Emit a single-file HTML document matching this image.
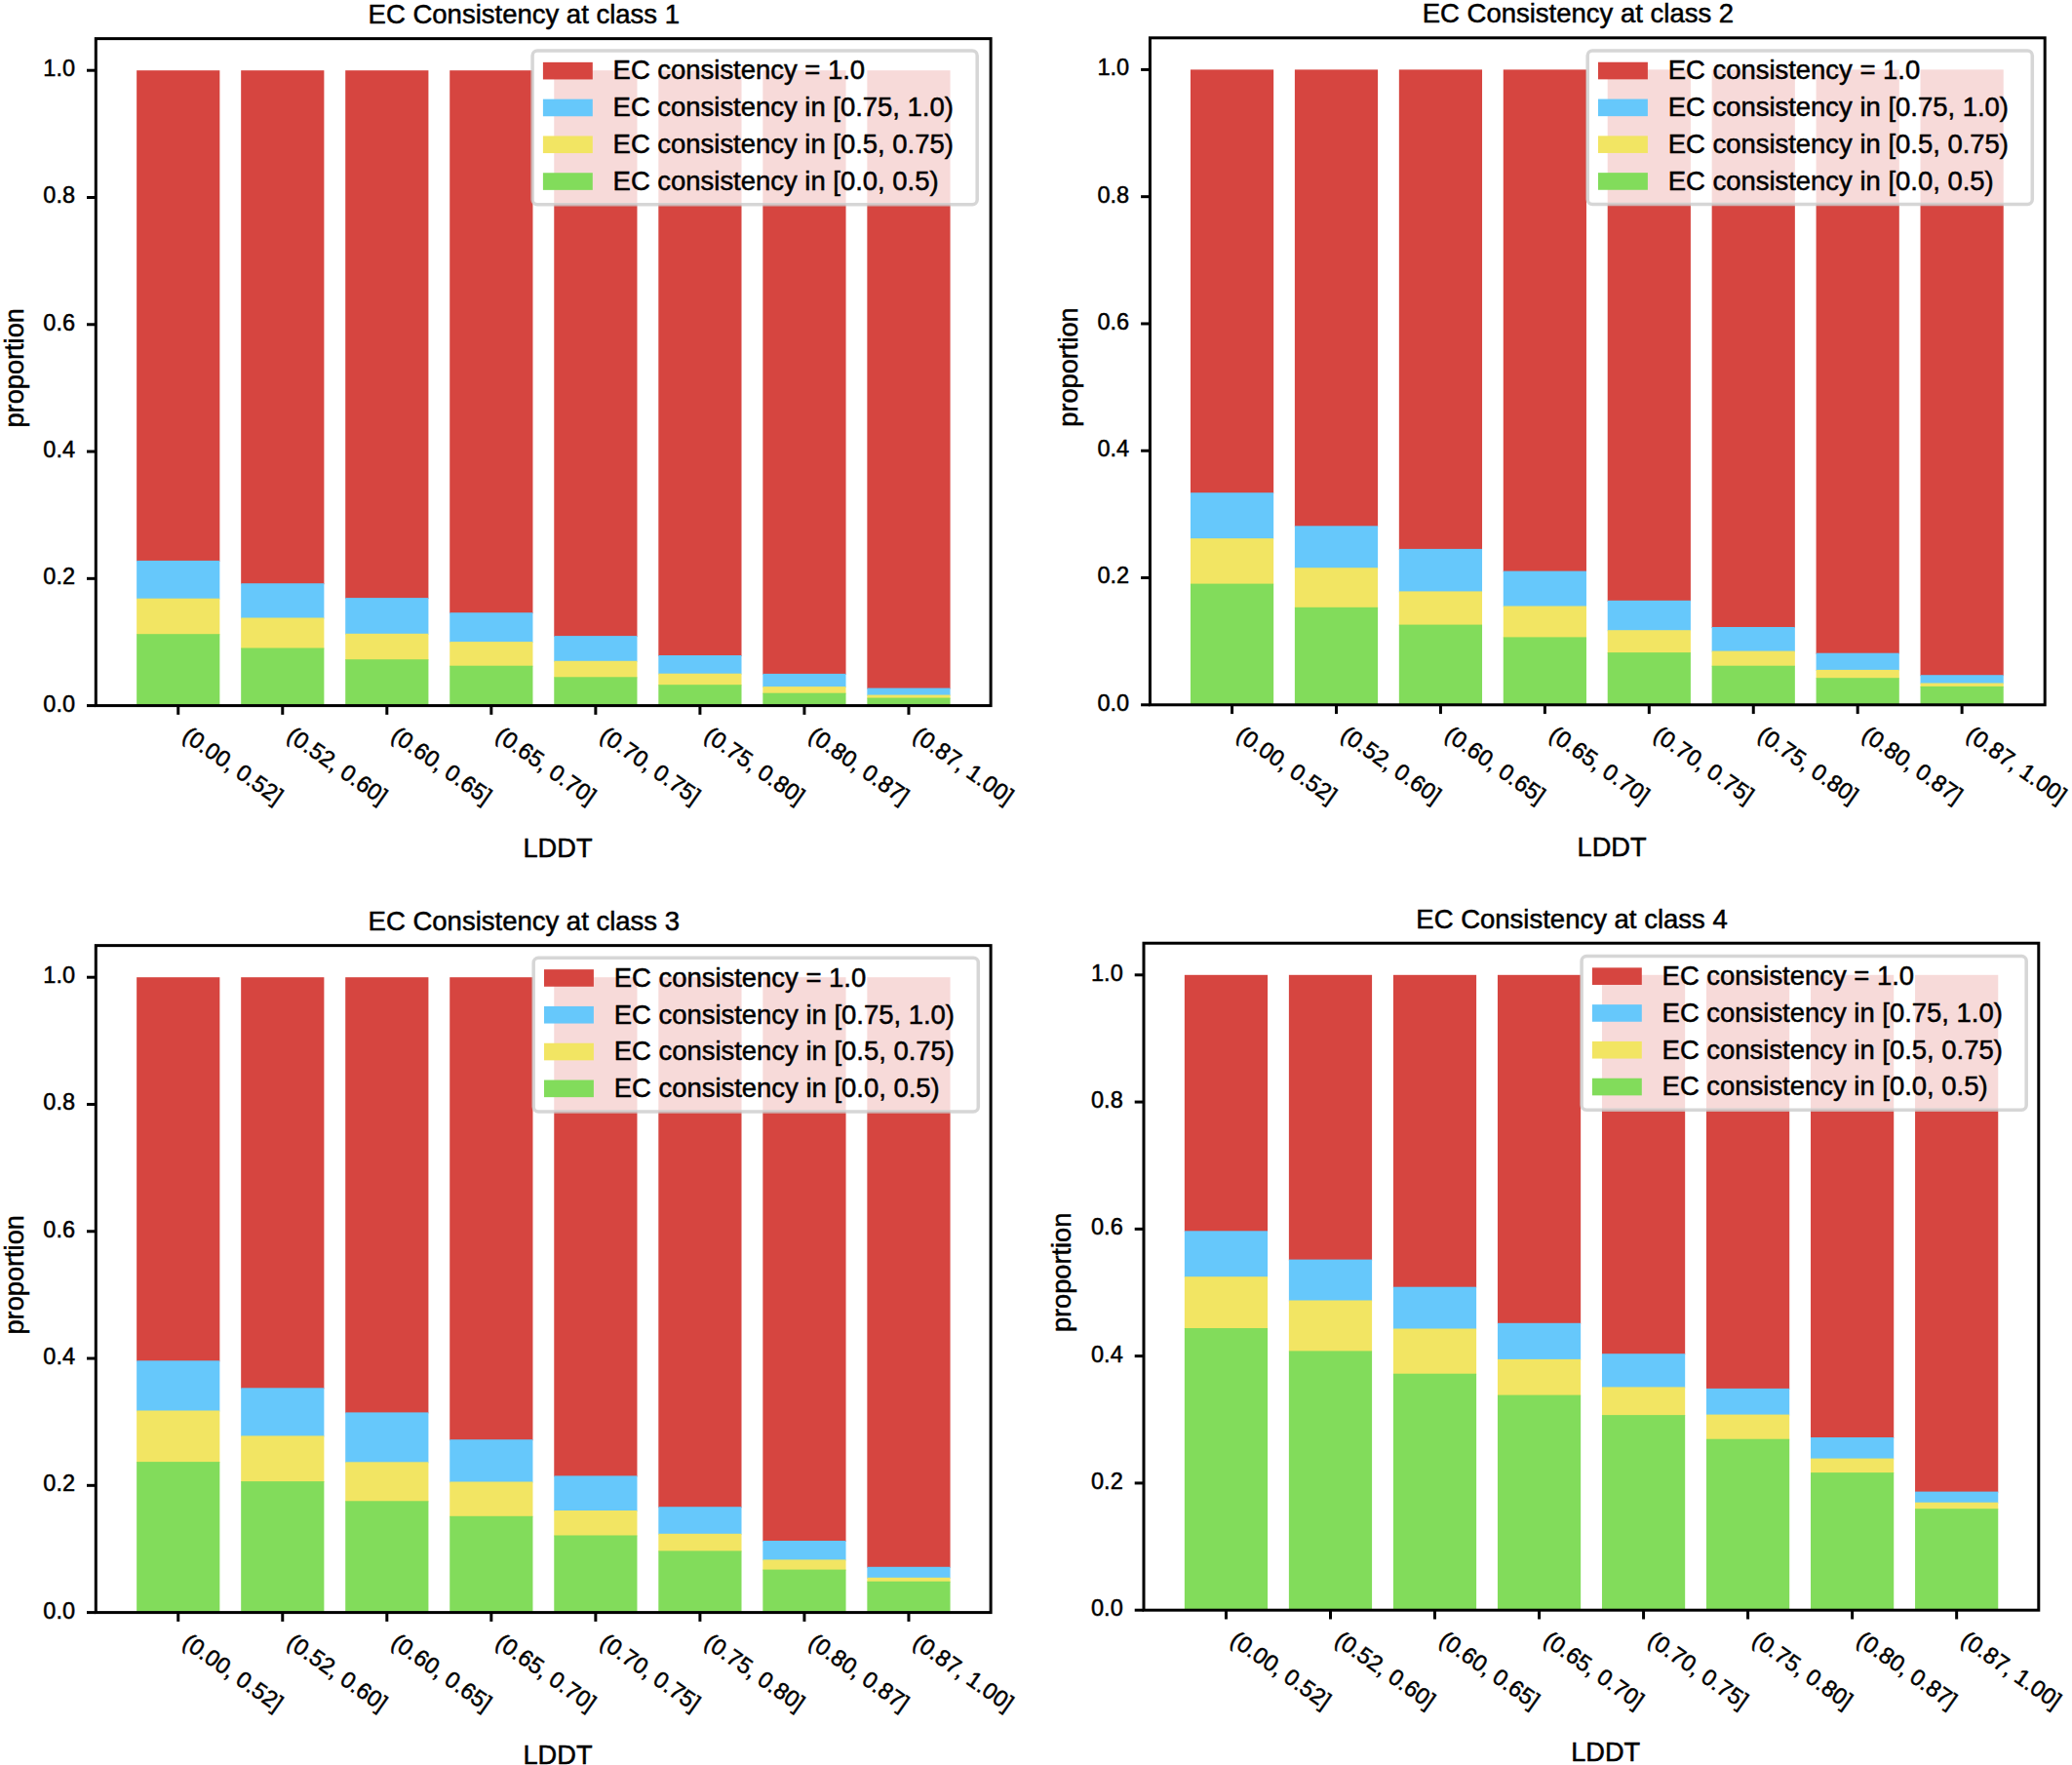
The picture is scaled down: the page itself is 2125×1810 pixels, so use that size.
<!DOCTYPE html>
<html lang="en"><head><meta charset="utf-8"><title>EC Consistency by LDDT</title>
<style>
html,body{margin:0;padding:0;background:#fff;}
body{width:2125px;height:1810px;overflow:hidden;}
svg{display:block;}
text{font-family:"Liberation Sans",Arial,Helvetica,sans-serif;fill:#000;stroke:#000;stroke-width:0.5px;}
.big{font-size:27.2px;}
.tick{font-size:23.5px;}
.leg{font-size:27.45px;}
.ttl{font-size:27.5px;}
</style></head><body>
<svg width="2125" height="1810" viewBox="0 0 2125 1810" role="img" aria-label="EC consistency by LDDT bin for EC classes 1 to 4">
<rect width="2125" height="1810" fill="#fff"/>
<g transform="translate(0 0)">
<g shape-rendering="auto">
<rect x="140.15" y="72.2" width="85.2" height="503.7" fill="#d64540"/>
<rect x="140.15" y="574.9" width="85.2" height="39.8" fill="#66c8fb"/>
<rect x="140.15" y="613.7" width="85.2" height="37.5" fill="#f2e563"/>
<rect x="140.15" y="650.2" width="85.2" height="73.4" fill="#82dc5b"/>
<rect x="247.18" y="72.2" width="85.2" height="527" fill="#d64540"/>
<rect x="247.18" y="598.2" width="85.2" height="36.3" fill="#66c8fb"/>
<rect x="247.18" y="633.5" width="85.2" height="32" fill="#f2e563"/>
<rect x="247.18" y="664.5" width="85.2" height="59.1" fill="#82dc5b"/>
<rect x="354.21" y="72.2" width="85.2" height="541.9" fill="#d64540"/>
<rect x="354.21" y="613.1" width="85.2" height="37.7" fill="#66c8fb"/>
<rect x="354.21" y="649.8" width="85.2" height="27.4" fill="#f2e563"/>
<rect x="354.21" y="676.2" width="85.2" height="47.4" fill="#82dc5b"/>
<rect x="461.24" y="72.2" width="85.2" height="557" fill="#d64540"/>
<rect x="461.24" y="628.2" width="85.2" height="30.9" fill="#66c8fb"/>
<rect x="461.24" y="658.1" width="85.2" height="25.6" fill="#f2e563"/>
<rect x="461.24" y="682.7" width="85.2" height="40.9" fill="#82dc5b"/>
<rect x="568.27" y="72.2" width="85.2" height="580.9" fill="#d64540"/>
<rect x="568.27" y="652.1" width="85.2" height="26.7" fill="#66c8fb"/>
<rect x="568.27" y="677.8" width="85.2" height="17.5" fill="#f2e563"/>
<rect x="568.27" y="694.3" width="85.2" height="29.3" fill="#82dc5b"/>
<rect x="675.3" y="72.2" width="85.2" height="600.8" fill="#d64540"/>
<rect x="675.3" y="672" width="85.2" height="19.7" fill="#66c8fb"/>
<rect x="675.3" y="690.7" width="85.2" height="12.5" fill="#f2e563"/>
<rect x="675.3" y="702.2" width="85.2" height="21.4" fill="#82dc5b"/>
<rect x="782.33" y="72.2" width="85.2" height="619.7" fill="#d64540"/>
<rect x="782.33" y="690.9" width="85.2" height="14.2" fill="#66c8fb"/>
<rect x="782.33" y="704.1" width="85.2" height="7.6" fill="#f2e563"/>
<rect x="782.33" y="710.7" width="85.2" height="12.9" fill="#82dc5b"/>
<rect x="889.36" y="72.2" width="85.2" height="634.4" fill="#d64540"/>
<rect x="889.36" y="705.6" width="85.2" height="8" fill="#66c8fb"/>
<rect x="889.36" y="712.6" width="85.2" height="4" fill="#f2e563"/>
<rect x="889.36" y="715.6" width="85.2" height="8" fill="#82dc5b"/>
</g>
<g transform="translate(0 0)">
<rect x="546.1" y="52" width="456.1" height="157.7" rx="5" ry="5" fill="#fff" fill-opacity="0.8" stroke="#ccc" stroke-opacity="0.8" stroke-width="3.5"/>
<rect x="556.9" y="63.85" width="50.9" height="17.6" fill="#d64540"/>
<text class="leg" x="628.6" y="81.45">EC consistency = 1.0</text>
<rect x="556.9" y="101.65" width="50.9" height="17.6" fill="#66c8fb"/>
<text class="leg" x="628.6" y="119.25">EC consistency in [0.75, 1.0)</text>
<rect x="556.9" y="139.45" width="50.9" height="17.6" fill="#f2e563"/>
<text class="leg" x="628.6" y="157.05">EC consistency in [0.5, 0.75)</text>
<rect x="556.9" y="177.25" width="50.9" height="17.6" fill="#82dc5b"/>
<text class="leg" x="628.6" y="194.85">EC consistency in [0.0, 0.5)</text>
</g>
<rect x="98.3" y="39.63" width="917.8" height="683.97" fill="none" stroke="#000" stroke-width="3"/>
<line x1="89" y1="723.6" x2="98.3" y2="723.6" stroke="#000" stroke-width="3"/>
<text class="tick" text-anchor="end" x="77" y="729.55">0.0</text>
<line x1="89" y1="593.32" x2="98.3" y2="593.32" stroke="#000" stroke-width="3"/>
<text class="tick" text-anchor="end" x="77" y="599.27">0.2</text>
<line x1="89" y1="463.04" x2="98.3" y2="463.04" stroke="#000" stroke-width="3"/>
<text class="tick" text-anchor="end" x="77" y="468.99">0.4</text>
<line x1="89" y1="332.76" x2="98.3" y2="332.76" stroke="#000" stroke-width="3"/>
<text class="tick" text-anchor="end" x="77" y="338.71">0.6</text>
<line x1="89" y1="202.48" x2="98.3" y2="202.48" stroke="#000" stroke-width="3"/>
<text class="tick" text-anchor="end" x="77" y="208.43">0.8</text>
<line x1="89" y1="72.2" x2="98.3" y2="72.2" stroke="#000" stroke-width="3"/>
<text class="tick" text-anchor="end" x="77" y="78.15">1.0</text>
<line x1="182.75" y1="723.6" x2="182.75" y2="732.9" stroke="#000" stroke-width="3"/>
<text class="tick" transform="translate(185.65 757.5) rotate(35)">(0.00, 0.52]</text>
<line x1="289.78" y1="723.6" x2="289.78" y2="732.9" stroke="#000" stroke-width="3"/>
<text class="tick" transform="translate(292.68 757.5) rotate(35)">(0.52, 0.60]</text>
<line x1="396.81" y1="723.6" x2="396.81" y2="732.9" stroke="#000" stroke-width="3"/>
<text class="tick" transform="translate(399.71 757.5) rotate(35)">(0.60, 0.65]</text>
<line x1="503.84" y1="723.6" x2="503.84" y2="732.9" stroke="#000" stroke-width="3"/>
<text class="tick" transform="translate(506.74 757.5) rotate(35)">(0.65, 0.70]</text>
<line x1="610.87" y1="723.6" x2="610.87" y2="732.9" stroke="#000" stroke-width="3"/>
<text class="tick" transform="translate(613.77 757.5) rotate(35)">(0.70, 0.75]</text>
<line x1="717.9" y1="723.6" x2="717.9" y2="732.9" stroke="#000" stroke-width="3"/>
<text class="tick" transform="translate(720.8 757.5) rotate(35)">(0.75, 0.80]</text>
<line x1="824.93" y1="723.6" x2="824.93" y2="732.9" stroke="#000" stroke-width="3"/>
<text class="tick" transform="translate(827.83 757.5) rotate(35)">(0.80, 0.87]</text>
<line x1="931.96" y1="723.6" x2="931.96" y2="732.9" stroke="#000" stroke-width="3"/>
<text class="tick" transform="translate(934.86 757.5) rotate(35)">(0.87, 1.00]</text>
<text class="ttl" x="377.6" y="24.1">EC Consistency at class 1</text>
<text class="big" text-anchor="middle" x="572" y="878.5">LDDT</text>
<text class="big" text-anchor="middle" transform="translate(23.5 377.3) rotate(-90)">proportion</text>
</g>
<g transform="translate(1081.1 -0.8)">
<g shape-rendering="auto">
<rect x="139.85" y="72.2" width="85.2" height="434.8" fill="#d64540"/>
<rect x="139.85" y="506" width="85.2" height="47.9" fill="#66c8fb"/>
<rect x="139.85" y="552.9" width="85.2" height="47.5" fill="#f2e563"/>
<rect x="139.85" y="599.4" width="85.2" height="124.2" fill="#82dc5b"/>
<rect x="246.79" y="72.2" width="85.2" height="468.9" fill="#d64540"/>
<rect x="246.79" y="540.1" width="85.2" height="43.9" fill="#66c8fb"/>
<rect x="246.79" y="583" width="85.2" height="41.6" fill="#f2e563"/>
<rect x="246.79" y="623.6" width="85.2" height="100" fill="#82dc5b"/>
<rect x="353.73" y="72.2" width="85.2" height="492.5" fill="#d64540"/>
<rect x="353.73" y="563.7" width="85.2" height="44.5" fill="#66c8fb"/>
<rect x="353.73" y="607.2" width="85.2" height="35.2" fill="#f2e563"/>
<rect x="353.73" y="641.4" width="85.2" height="82.2" fill="#82dc5b"/>
<rect x="460.67" y="72.2" width="85.2" height="515.2" fill="#d64540"/>
<rect x="460.67" y="586.4" width="85.2" height="36.9" fill="#66c8fb"/>
<rect x="460.67" y="622.3" width="85.2" height="32.9" fill="#f2e563"/>
<rect x="460.67" y="654.2" width="85.2" height="69.4" fill="#82dc5b"/>
<rect x="567.61" y="72.2" width="85.2" height="545.4" fill="#d64540"/>
<rect x="567.61" y="616.6" width="85.2" height="31.4" fill="#66c8fb"/>
<rect x="567.61" y="647" width="85.2" height="23.9" fill="#f2e563"/>
<rect x="567.61" y="669.9" width="85.2" height="53.7" fill="#82dc5b"/>
<rect x="674.55" y="72.2" width="85.2" height="572.6" fill="#d64540"/>
<rect x="674.55" y="643.8" width="85.2" height="25.6" fill="#66c8fb"/>
<rect x="674.55" y="668.4" width="85.2" height="16.1" fill="#f2e563"/>
<rect x="674.55" y="683.5" width="85.2" height="40.1" fill="#82dc5b"/>
<rect x="781.49" y="72.2" width="85.2" height="599.3" fill="#d64540"/>
<rect x="781.49" y="670.5" width="85.2" height="18.2" fill="#66c8fb"/>
<rect x="781.49" y="687.7" width="85.2" height="9.3" fill="#f2e563"/>
<rect x="781.49" y="696" width="85.2" height="27.6" fill="#82dc5b"/>
<rect x="888.43" y="72.2" width="85.2" height="621.8" fill="#d64540"/>
<rect x="888.43" y="693" width="85.2" height="9.3" fill="#66c8fb"/>
<rect x="888.43" y="701.3" width="85.2" height="4.4" fill="#f2e563"/>
<rect x="888.43" y="704.7" width="85.2" height="18.9" fill="#82dc5b"/>
</g>
<g transform="translate(1 0.7)">
<rect x="546.1" y="52" width="456.1" height="157.7" rx="5" ry="5" fill="#fff" fill-opacity="0.8" stroke="#ccc" stroke-opacity="0.8" stroke-width="3.5"/>
<rect x="556.9" y="63.85" width="50.9" height="17.6" fill="#d64540"/>
<text class="leg" x="628.6" y="81.45">EC consistency = 1.0</text>
<rect x="556.9" y="101.65" width="50.9" height="17.6" fill="#66c8fb"/>
<text class="leg" x="628.6" y="119.25">EC consistency in [0.75, 1.0)</text>
<rect x="556.9" y="139.45" width="50.9" height="17.6" fill="#f2e563"/>
<text class="leg" x="628.6" y="157.05">EC consistency in [0.5, 0.75)</text>
<rect x="556.9" y="177.25" width="50.9" height="17.6" fill="#82dc5b"/>
<text class="leg" x="628.6" y="194.85">EC consistency in [0.0, 0.5)</text>
</g>
<rect x="98.3" y="39.63" width="917.8" height="683.97" fill="none" stroke="#000" stroke-width="3"/>
<line x1="89" y1="723.6" x2="98.3" y2="723.6" stroke="#000" stroke-width="3"/>
<text class="tick" text-anchor="end" x="77" y="729.55">0.0</text>
<line x1="89" y1="593.32" x2="98.3" y2="593.32" stroke="#000" stroke-width="3"/>
<text class="tick" text-anchor="end" x="77" y="599.27">0.2</text>
<line x1="89" y1="463.04" x2="98.3" y2="463.04" stroke="#000" stroke-width="3"/>
<text class="tick" text-anchor="end" x="77" y="468.99">0.4</text>
<line x1="89" y1="332.76" x2="98.3" y2="332.76" stroke="#000" stroke-width="3"/>
<text class="tick" text-anchor="end" x="77" y="338.71">0.6</text>
<line x1="89" y1="202.48" x2="98.3" y2="202.48" stroke="#000" stroke-width="3"/>
<text class="tick" text-anchor="end" x="77" y="208.43">0.8</text>
<line x1="89" y1="72.2" x2="98.3" y2="72.2" stroke="#000" stroke-width="3"/>
<text class="tick" text-anchor="end" x="77" y="78.15">1.0</text>
<line x1="182.45" y1="723.6" x2="182.45" y2="732.9" stroke="#000" stroke-width="3"/>
<text class="tick" transform="translate(185.35 757.5) rotate(35)">(0.00, 0.52]</text>
<line x1="289.39" y1="723.6" x2="289.39" y2="732.9" stroke="#000" stroke-width="3"/>
<text class="tick" transform="translate(292.29 757.5) rotate(35)">(0.52, 0.60]</text>
<line x1="396.33" y1="723.6" x2="396.33" y2="732.9" stroke="#000" stroke-width="3"/>
<text class="tick" transform="translate(399.23 757.5) rotate(35)">(0.60, 0.65]</text>
<line x1="503.27" y1="723.6" x2="503.27" y2="732.9" stroke="#000" stroke-width="3"/>
<text class="tick" transform="translate(506.17 757.5) rotate(35)">(0.65, 0.70]</text>
<line x1="610.21" y1="723.6" x2="610.21" y2="732.9" stroke="#000" stroke-width="3"/>
<text class="tick" transform="translate(613.11 757.5) rotate(35)">(0.70, 0.75]</text>
<line x1="717.15" y1="723.6" x2="717.15" y2="732.9" stroke="#000" stroke-width="3"/>
<text class="tick" transform="translate(720.05 757.5) rotate(35)">(0.75, 0.80]</text>
<line x1="824.09" y1="723.6" x2="824.09" y2="732.9" stroke="#000" stroke-width="3"/>
<text class="tick" transform="translate(826.99 757.5) rotate(35)">(0.80, 0.87]</text>
<line x1="931.03" y1="723.6" x2="931.03" y2="732.9" stroke="#000" stroke-width="3"/>
<text class="tick" transform="translate(933.93 757.5) rotate(35)">(0.87, 1.00]</text>
<text class="ttl" x="377.6" y="24.1">EC Consistency at class 2</text>
<text class="big" text-anchor="middle" x="572" y="878.5">LDDT</text>
<text class="big" text-anchor="middle" transform="translate(23.5 377.3) rotate(-90)">proportion</text>
</g>
<g transform="translate(0 930)">
<g shape-rendering="auto">
<rect x="140.15" y="72.2" width="85.2" height="394.1" fill="#d64540"/>
<rect x="140.15" y="465.3" width="85.2" height="52.2" fill="#66c8fb"/>
<rect x="140.15" y="516.5" width="85.2" height="53.6" fill="#f2e563"/>
<rect x="140.15" y="569.1" width="85.2" height="154.5" fill="#82dc5b"/>
<rect x="247.18" y="72.2" width="85.2" height="422.1" fill="#d64540"/>
<rect x="247.18" y="493.3" width="85.2" height="50.1" fill="#66c8fb"/>
<rect x="247.18" y="542.4" width="85.2" height="47.7" fill="#f2e563"/>
<rect x="247.18" y="589.1" width="85.2" height="134.5" fill="#82dc5b"/>
<rect x="354.21" y="72.2" width="85.2" height="447.2" fill="#d64540"/>
<rect x="354.21" y="518.4" width="85.2" height="51.9" fill="#66c8fb"/>
<rect x="354.21" y="569.3" width="85.2" height="41" fill="#f2e563"/>
<rect x="354.21" y="609.3" width="85.2" height="114.3" fill="#82dc5b"/>
<rect x="461.24" y="72.2" width="85.2" height="475" fill="#d64540"/>
<rect x="461.24" y="546.2" width="85.2" height="44.3" fill="#66c8fb"/>
<rect x="461.24" y="589.5" width="85.2" height="36.3" fill="#f2e563"/>
<rect x="461.24" y="624.8" width="85.2" height="98.8" fill="#82dc5b"/>
<rect x="568.27" y="72.2" width="85.2" height="512.2" fill="#d64540"/>
<rect x="568.27" y="583.4" width="85.2" height="36.6" fill="#66c8fb"/>
<rect x="568.27" y="619" width="85.2" height="26.5" fill="#f2e563"/>
<rect x="568.27" y="644.5" width="85.2" height="79.1" fill="#82dc5b"/>
<rect x="675.3" y="72.2" width="85.2" height="544" fill="#d64540"/>
<rect x="675.3" y="615.2" width="85.2" height="28.6" fill="#66c8fb"/>
<rect x="675.3" y="642.8" width="85.2" height="18.6" fill="#f2e563"/>
<rect x="675.3" y="660.4" width="85.2" height="63.2" fill="#82dc5b"/>
<rect x="782.33" y="72.2" width="85.2" height="578.8" fill="#d64540"/>
<rect x="782.33" y="650" width="85.2" height="20.4" fill="#66c8fb"/>
<rect x="782.33" y="669.4" width="85.2" height="11.2" fill="#f2e563"/>
<rect x="782.33" y="679.6" width="85.2" height="44" fill="#82dc5b"/>
<rect x="889.36" y="72.2" width="85.2" height="605.6" fill="#d64540"/>
<rect x="889.36" y="676.8" width="85.2" height="12" fill="#66c8fb"/>
<rect x="889.36" y="687.8" width="85.2" height="4.9" fill="#f2e563"/>
<rect x="889.36" y="691.7" width="85.2" height="31.9" fill="#82dc5b"/>
</g>
<g transform="translate(1.1 0.3)">
<rect x="546.1" y="52" width="456.1" height="157.7" rx="5" ry="5" fill="#fff" fill-opacity="0.8" stroke="#ccc" stroke-opacity="0.8" stroke-width="3.5"/>
<rect x="556.9" y="63.85" width="50.9" height="17.6" fill="#d64540"/>
<text class="leg" x="628.6" y="81.45">EC consistency = 1.0</text>
<rect x="556.9" y="101.65" width="50.9" height="17.6" fill="#66c8fb"/>
<text class="leg" x="628.6" y="119.25">EC consistency in [0.75, 1.0)</text>
<rect x="556.9" y="139.45" width="50.9" height="17.6" fill="#f2e563"/>
<text class="leg" x="628.6" y="157.05">EC consistency in [0.5, 0.75)</text>
<rect x="556.9" y="177.25" width="50.9" height="17.6" fill="#82dc5b"/>
<text class="leg" x="628.6" y="194.85">EC consistency in [0.0, 0.5)</text>
</g>
<rect x="98.3" y="39.63" width="917.8" height="683.97" fill="none" stroke="#000" stroke-width="3"/>
<line x1="89" y1="723.6" x2="98.3" y2="723.6" stroke="#000" stroke-width="3"/>
<text class="tick" text-anchor="end" x="77" y="729.55">0.0</text>
<line x1="89" y1="593.32" x2="98.3" y2="593.32" stroke="#000" stroke-width="3"/>
<text class="tick" text-anchor="end" x="77" y="599.27">0.2</text>
<line x1="89" y1="463.04" x2="98.3" y2="463.04" stroke="#000" stroke-width="3"/>
<text class="tick" text-anchor="end" x="77" y="468.99">0.4</text>
<line x1="89" y1="332.76" x2="98.3" y2="332.76" stroke="#000" stroke-width="3"/>
<text class="tick" text-anchor="end" x="77" y="338.71">0.6</text>
<line x1="89" y1="202.48" x2="98.3" y2="202.48" stroke="#000" stroke-width="3"/>
<text class="tick" text-anchor="end" x="77" y="208.43">0.8</text>
<line x1="89" y1="72.2" x2="98.3" y2="72.2" stroke="#000" stroke-width="3"/>
<text class="tick" text-anchor="end" x="77" y="78.15">1.0</text>
<line x1="182.75" y1="723.6" x2="182.75" y2="732.9" stroke="#000" stroke-width="3"/>
<text class="tick" transform="translate(185.65 757.5) rotate(35)">(0.00, 0.52]</text>
<line x1="289.78" y1="723.6" x2="289.78" y2="732.9" stroke="#000" stroke-width="3"/>
<text class="tick" transform="translate(292.68 757.5) rotate(35)">(0.52, 0.60]</text>
<line x1="396.81" y1="723.6" x2="396.81" y2="732.9" stroke="#000" stroke-width="3"/>
<text class="tick" transform="translate(399.71 757.5) rotate(35)">(0.60, 0.65]</text>
<line x1="503.84" y1="723.6" x2="503.84" y2="732.9" stroke="#000" stroke-width="3"/>
<text class="tick" transform="translate(506.74 757.5) rotate(35)">(0.65, 0.70]</text>
<line x1="610.87" y1="723.6" x2="610.87" y2="732.9" stroke="#000" stroke-width="3"/>
<text class="tick" transform="translate(613.77 757.5) rotate(35)">(0.70, 0.75]</text>
<line x1="717.9" y1="723.6" x2="717.9" y2="732.9" stroke="#000" stroke-width="3"/>
<text class="tick" transform="translate(720.8 757.5) rotate(35)">(0.75, 0.80]</text>
<line x1="824.93" y1="723.6" x2="824.93" y2="732.9" stroke="#000" stroke-width="3"/>
<text class="tick" transform="translate(827.83 757.5) rotate(35)">(0.80, 0.87]</text>
<line x1="931.96" y1="723.6" x2="931.96" y2="732.9" stroke="#000" stroke-width="3"/>
<text class="tick" transform="translate(934.86 757.5) rotate(35)">(0.87, 1.00]</text>
<text class="ttl" x="377.6" y="24.1">EC Consistency at class 3</text>
<text class="big" text-anchor="middle" x="572" y="878.5">LDDT</text>
<text class="big" text-anchor="middle" transform="translate(23.5 377.3) rotate(-90)">proportion</text>
</g>
<g transform="translate(1074.7 927.6)">
<g shape-rendering="auto">
<rect x="140.15" y="72.2" width="85.2" height="263.5" fill="#d64540"/>
<rect x="140.15" y="334.7" width="85.2" height="47.9" fill="#66c8fb"/>
<rect x="140.15" y="381.6" width="85.2" height="53.8" fill="#f2e563"/>
<rect x="140.15" y="434.4" width="85.2" height="289.2" fill="#82dc5b"/>
<rect x="247.18" y="72.2" width="85.2" height="292.8" fill="#d64540"/>
<rect x="247.18" y="364" width="85.2" height="42.9" fill="#66c8fb"/>
<rect x="247.18" y="405.9" width="85.2" height="52.9" fill="#f2e563"/>
<rect x="247.18" y="457.8" width="85.2" height="265.8" fill="#82dc5b"/>
<rect x="354.21" y="72.2" width="85.2" height="320.9" fill="#d64540"/>
<rect x="354.21" y="392.1" width="85.2" height="43.8" fill="#66c8fb"/>
<rect x="354.21" y="434.9" width="85.2" height="47.2" fill="#f2e563"/>
<rect x="354.21" y="481.1" width="85.2" height="242.5" fill="#82dc5b"/>
<rect x="461.24" y="72.2" width="85.2" height="358" fill="#d64540"/>
<rect x="461.24" y="429.2" width="85.2" height="38.1" fill="#66c8fb"/>
<rect x="461.24" y="466.3" width="85.2" height="37.7" fill="#f2e563"/>
<rect x="461.24" y="503" width="85.2" height="220.6" fill="#82dc5b"/>
<rect x="568.27" y="72.2" width="85.2" height="389.4" fill="#d64540"/>
<rect x="568.27" y="460.6" width="85.2" height="35.2" fill="#66c8fb"/>
<rect x="568.27" y="494.8" width="85.2" height="29.7" fill="#f2e563"/>
<rect x="568.27" y="523.5" width="85.2" height="200.1" fill="#82dc5b"/>
<rect x="675.3" y="72.2" width="85.2" height="425.1" fill="#d64540"/>
<rect x="675.3" y="496.3" width="85.2" height="27.7" fill="#66c8fb"/>
<rect x="675.3" y="523" width="85.2" height="26.1" fill="#f2e563"/>
<rect x="675.3" y="548.1" width="85.2" height="175.5" fill="#82dc5b"/>
<rect x="782.33" y="72.2" width="85.2" height="475.2" fill="#d64540"/>
<rect x="782.33" y="546.4" width="85.2" height="22.6" fill="#66c8fb"/>
<rect x="782.33" y="568" width="85.2" height="15.5" fill="#f2e563"/>
<rect x="782.33" y="582.5" width="85.2" height="141.1" fill="#82dc5b"/>
<rect x="889.36" y="72.2" width="85.2" height="530.8" fill="#d64540"/>
<rect x="889.36" y="602" width="85.2" height="12.1" fill="#66c8fb"/>
<rect x="889.36" y="613.1" width="85.2" height="7.5" fill="#f2e563"/>
<rect x="889.36" y="619.6" width="85.2" height="104" fill="#82dc5b"/>
</g>
<g transform="translate(1.3 0.9)">
<rect x="546.1" y="52" width="456.1" height="157.7" rx="5" ry="5" fill="#fff" fill-opacity="0.8" stroke="#ccc" stroke-opacity="0.8" stroke-width="3.5"/>
<rect x="556.9" y="63.85" width="50.9" height="17.6" fill="#d64540"/>
<text class="leg" x="628.6" y="81.45">EC consistency = 1.0</text>
<rect x="556.9" y="101.65" width="50.9" height="17.6" fill="#66c8fb"/>
<text class="leg" x="628.6" y="119.25">EC consistency in [0.75, 1.0)</text>
<rect x="556.9" y="139.45" width="50.9" height="17.6" fill="#f2e563"/>
<text class="leg" x="628.6" y="157.05">EC consistency in [0.5, 0.75)</text>
<rect x="556.9" y="177.25" width="50.9" height="17.6" fill="#82dc5b"/>
<text class="leg" x="628.6" y="194.85">EC consistency in [0.0, 0.5)</text>
</g>
<rect x="98.3" y="39.63" width="917.8" height="683.97" fill="none" stroke="#000" stroke-width="3"/>
<line x1="89" y1="723.6" x2="98.3" y2="723.6" stroke="#000" stroke-width="3"/>
<text class="tick" text-anchor="end" x="77" y="729.55">0.0</text>
<line x1="89" y1="593.32" x2="98.3" y2="593.32" stroke="#000" stroke-width="3"/>
<text class="tick" text-anchor="end" x="77" y="599.27">0.2</text>
<line x1="89" y1="463.04" x2="98.3" y2="463.04" stroke="#000" stroke-width="3"/>
<text class="tick" text-anchor="end" x="77" y="468.99">0.4</text>
<line x1="89" y1="332.76" x2="98.3" y2="332.76" stroke="#000" stroke-width="3"/>
<text class="tick" text-anchor="end" x="77" y="338.71">0.6</text>
<line x1="89" y1="202.48" x2="98.3" y2="202.48" stroke="#000" stroke-width="3"/>
<text class="tick" text-anchor="end" x="77" y="208.43">0.8</text>
<line x1="89" y1="72.2" x2="98.3" y2="72.2" stroke="#000" stroke-width="3"/>
<text class="tick" text-anchor="end" x="77" y="78.15">1.0</text>
<line x1="182.75" y1="723.6" x2="182.75" y2="732.9" stroke="#000" stroke-width="3"/>
<text class="tick" transform="translate(185.65 757.5) rotate(35)">(0.00, 0.52]</text>
<line x1="289.78" y1="723.6" x2="289.78" y2="732.9" stroke="#000" stroke-width="3"/>
<text class="tick" transform="translate(292.68 757.5) rotate(35)">(0.52, 0.60]</text>
<line x1="396.81" y1="723.6" x2="396.81" y2="732.9" stroke="#000" stroke-width="3"/>
<text class="tick" transform="translate(399.71 757.5) rotate(35)">(0.60, 0.65]</text>
<line x1="503.84" y1="723.6" x2="503.84" y2="732.9" stroke="#000" stroke-width="3"/>
<text class="tick" transform="translate(506.74 757.5) rotate(35)">(0.65, 0.70]</text>
<line x1="610.87" y1="723.6" x2="610.87" y2="732.9" stroke="#000" stroke-width="3"/>
<text class="tick" transform="translate(613.77 757.5) rotate(35)">(0.70, 0.75]</text>
<line x1="717.9" y1="723.6" x2="717.9" y2="732.9" stroke="#000" stroke-width="3"/>
<text class="tick" transform="translate(720.8 757.5) rotate(35)">(0.75, 0.80]</text>
<line x1="824.93" y1="723.6" x2="824.93" y2="732.9" stroke="#000" stroke-width="3"/>
<text class="tick" transform="translate(827.83 757.5) rotate(35)">(0.80, 0.87]</text>
<line x1="931.96" y1="723.6" x2="931.96" y2="732.9" stroke="#000" stroke-width="3"/>
<text class="tick" transform="translate(934.86 757.5) rotate(35)">(0.87, 1.00]</text>
<text class="ttl" x="377.6" y="24.1">EC Consistency at class 4</text>
<text class="big" text-anchor="middle" x="572" y="878.5">LDDT</text>
<text class="big" text-anchor="middle" transform="translate(23.5 377.3) rotate(-90)">proportion</text>
</g>
</svg></body></html>
